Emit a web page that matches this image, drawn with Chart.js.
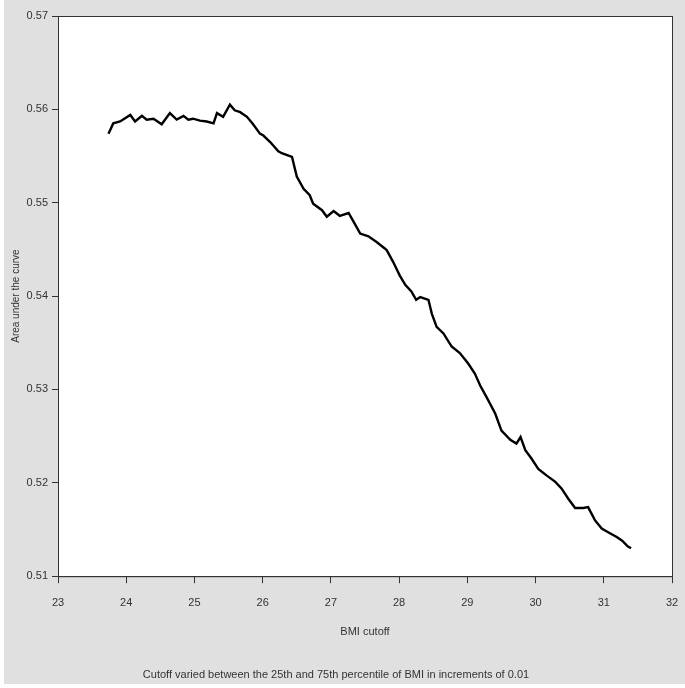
<!DOCTYPE html>
<html>
<head>
<meta charset="utf-8">
<script src="https://cdn.jsdelivr.net/npm/chart.js@4/dist/chart.umd.min.js"></script>
<style>
  html, body { margin: 0; padding: 0; background: #fff; }
  #wrap { width: 685px; height: 688px; }
</style>
</head>
<body>
<div id="wrap"><canvas id="aucChart" width="685" height="688"></canvas></div>
<script>
// BMI cutoff values
var bmiCutoff = [
  23.74, 23.81, 23.91, 24.06, 24.13, 24.23, 24.30, 24.40, 24.52, 24.64,
  24.74, 24.84, 24.91, 24.98, 25.08, 25.18, 25.28, 25.33, 25.42, 25.52,
  25.59, 25.67, 25.77, 25.86, 25.96, 26.01, 26.11, 26.23, 26.28, 26.43,
  26.50, 26.60, 26.69, 26.74, 26.87, 26.94, 27.04, 27.13, 27.26, 27.33,
  27.43, 27.55, 27.67, 27.79, 27.82, 27.91, 28.01, 28.09, 28.18, 28.25,
  28.31, 28.43, 28.48, 28.55, 28.65, 28.77, 28.89, 29.01, 29.11, 29.19,
  29.28, 29.41, 29.50, 29.63, 29.72, 29.78, 29.85, 29.94, 30.04, 30.16,
  30.29, 30.38, 30.48, 30.58, 30.70, 30.77, 30.87, 30.97, 31.09, 31.19,
  31.27, 31.35, 31.40
];
// area under the curve at each cutoff
var auc = [
  0.5574, 0.5585, 0.5587, 0.5594, 0.5587, 0.5593, 0.5589, 0.5590, 0.5584, 0.5596,
  0.5589, 0.5593, 0.5589, 0.5590, 0.5588, 0.5587, 0.5585, 0.5596, 0.5592, 0.5605,
  0.5599, 0.5597, 0.5592, 0.5584, 0.5574, 0.5572, 0.5565, 0.5555, 0.5553, 0.5549,
  0.5528, 0.5515, 0.5508, 0.5499, 0.5492, 0.5485, 0.5491, 0.5486, 0.5489, 0.5480,
  0.5467, 0.5464, 0.5458, 0.5451, 0.5449, 0.5437, 0.5422, 0.5412, 0.5405, 0.5396,
  0.5399, 0.5396, 0.5381, 0.5367, 0.5360, 0.5346, 0.5339, 0.5328, 0.5317, 0.5304,
  0.5292, 0.5274, 0.5256, 0.5246, 0.5242, 0.5249, 0.5235, 0.5226, 0.5215, 0.5208,
  0.5201, 0.5194, 0.5183, 0.5173, 0.5173, 0.5174, 0.5160, 0.5151, 0.5146, 0.5142,
  0.5138, 0.5132, 0.5130
];
var xTicks = [23, 24, 25, 26, 27, 28, 29, 30, 31, 32];
var yTicks = [0.51, 0.52, 0.53, 0.54, 0.55, 0.56, 0.57];

var points = [];
for (var i = 0; i < bmiCutoff.length; i++) {
  points.push({ x: bmiCutoff[i], y: auc[i] });
}

var axisColor = "#333333";
var fontFamily = "'Liberation Sans', Arial, sans-serif";

// gray page background + white plotting box with full frame
var panelPlugin = {
  id: "panel",
  beforeDraw: function (chart) {
    var ctx = chart.ctx;
    var a = chart.chartArea;
    ctx.save();
    ctx.fillStyle = "#ffffff";
    ctx.fillRect(0, 0, chart.width, chart.height);
    ctx.fillStyle = "#e0e0e0";
    ctx.fillRect(4, 0, chart.width - 4, chart.height - 4);
    ctx.fillStyle = "#ffffff";
    ctx.fillRect(a.left, a.top, a.right - a.left, a.bottom - a.top);
    ctx.restore();
  },
  afterDraw: function (chart) {
    var ctx = chart.ctx;
    var a = chart.chartArea;
    ctx.save();
    ctx.strokeStyle = axisColor;
    ctx.lineWidth = 1;
    ctx.strokeRect(a.left + 0.5, a.top + 0.5, a.right - a.left, a.bottom - a.top);
    ctx.restore();
  }
};

new Chart(document.getElementById("aucChart"), {
  type: "line",
  data: {
    datasets: [{
      data: points,
      borderColor: "#000000",
      backgroundColor: "#000000",
      borderWidth: 2.4,
      pointRadius: 0,
      pointHoverRadius: 0,
      tension: 0,
      fill: false
    }]
  },
  options: {
    responsive: false,
    animation: false,
    devicePixelRatio: 1,
    layout: { padding: { top: 16, right: 13, left: 0, bottom: 0 } },
    plugins: {
      legend: { display: false },
      tooltip: { enabled: false },
      subtitle: {
        display: true,
        position: "bottom",
        text: "Cutoff varied between the 25th and 75th percentile of BMI in increments of 0.01",
        color: axisColor,
        font: { family: fontFamily, size: 11 },
        padding: { top: 10, bottom: 6 }
      }
    },
    scales: {
      x: {
        type: "linear",
        min: 23,
        max: 32,
        afterBuildTicks: function (scale) {
          scale.ticks = xTicks.map(function (v) { return { value: v }; });
        },
        afterFit: function (scale) { scale.height = 82.6; },
        ticks: {
          color: axisColor,
          // tall line height pushes labels down without widening side padding
          font: { family: fontFamily, size: 11, lineHeight: "36px" },
          padding: 2,
          maxRotation: 0,
          callback: function (v) { return String(v); }
        },
        grid: { drawOnChartArea: false, drawTicks: true, tickLength: 7, color: axisColor },
        border: { color: axisColor },
        title: {
          display: true,
          text: "BMI cutoff",
          color: axisColor,
          font: { family: fontFamily, size: 11 },
          padding: { top: 0, bottom: 20 }
        }
      },
      y: {
        type: "linear",
        min: 0.51,
        max: 0.57,
        afterBuildTicks: function (scale) {
          scale.ticks = yTicks.map(function (v) { return { value: v }; });
        },
        afterFit: function (scale) { scale.width = 58; },
        ticks: {
          color: axisColor,
          font: { family: fontFamily, size: 11 },
          padding: 4,
          callback: function (v) { return Number(v).toFixed(2); }
        },
        grid: { drawOnChartArea: false, drawTicks: true, tickLength: 6, color: axisColor },
        border: { color: axisColor },
        title: {
          display: true,
          text: "Area under the curve",
          color: axisColor,
          font: { family: fontFamily, size: 10 },
          padding: { top: 10, bottom: 0 }
        }
      }
    }
  },
  plugins: [panelPlugin]
});
</script>
</body>
</html>
